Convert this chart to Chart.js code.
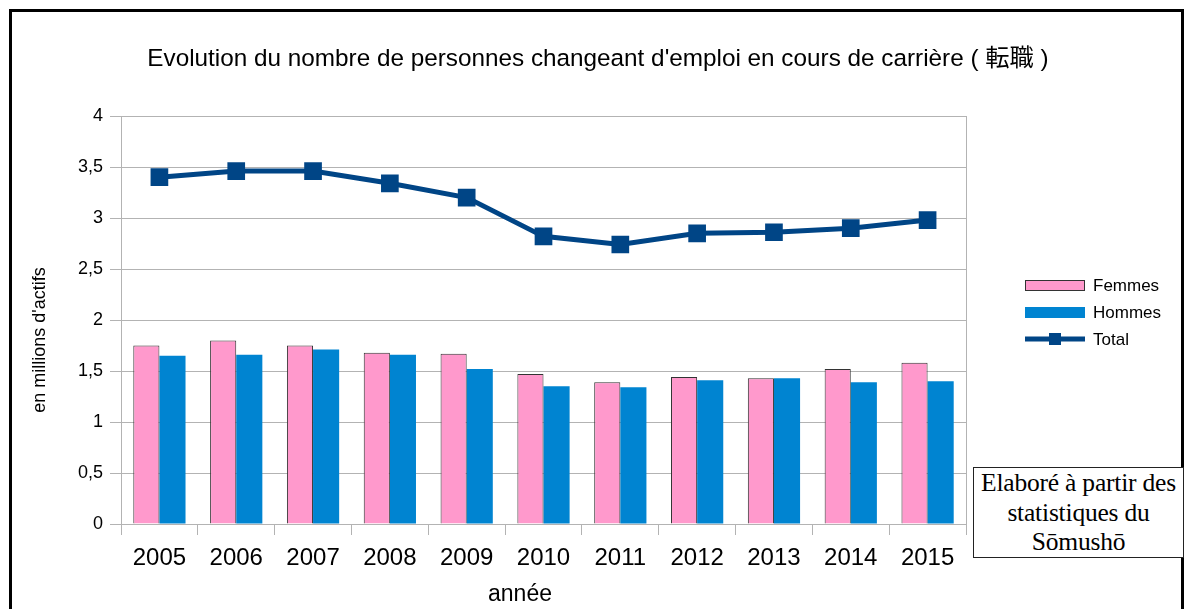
<!DOCTYPE html>
<html>
<head>
<meta charset="utf-8">
<script src="https://cdn.jsdelivr.net/npm/chart.js@4"></script>
<style>
  body { margin: 0; background: #fff; }
  #wrap { position: relative; width: 1186px; height: 609px; overflow: hidden; font-family: "Liberation Sans", "Noto Sans CJK JP", Arial, sans-serif; }
  #frame { position: absolute; left: 9px; top: 9px; width: 1175px; height: 700px; border: 3px solid #000; box-sizing: border-box; pointer-events: none; }
  #title { position: absolute; left: 0; width: 1196px; top: 44px; text-align: center; font-size: 24.3px; line-height: 28px; color: #000; white-space: nowrap; }
  #xtitle { position: absolute; left: 420px; width: 200px; top: 579px; text-align: center; font-size: 23px; line-height: 28px; color: #000; }
  #ytitle { position: absolute; left: -61px; top: 328px; width: 200px; text-align: center; font-size: 18px; line-height: 24px; color: #000; transform: rotate(-90deg); white-space: nowrap; }
  #note { position: absolute; left: 973px; top: 467px; width: 211px; height: 91px; border: 1px solid #222; background: #fff;
          box-sizing: border-box; font-family: "Liberation Serif", serif; font-size: 25.5px; line-height: 29.5px; text-align: center; color: #000; padding-top: 0; white-space: nowrap; letter-spacing: -0.2px; }
</style>
</head>
<body>
<div id="wrap">
  <canvas id="myChart" width="1186" height="609"></canvas>
  <div id="frame"></div>
  <div id="title">Evolution du nombre de personnes changeant d'emploi en cours de carrière ( 転職 )</div>
  <div id="ytitle">en millions d'actifs</div>
  <div id="xtitle">année</div>
  <div id="note">Elaboré à partir des<br>statistiques du<br>Sōmushō</div>
</div>
<script>
// data (millions)
const years = ["2005", "2006", "2007", "2008", "2009", "2010", "2011", "2012", "2013", "2014", "2015"];
const femmes = [1.75, 1.80, 1.75, 1.68, 1.67, 1.47, 1.39, 1.44, 1.43, 1.52, 1.58];
const hommes = [1.65, 1.66, 1.71, 1.66, 1.52, 1.35, 1.34, 1.41, 1.43, 1.39, 1.40];
const total = [3.40, 3.46, 3.46, 3.34, 3.20, 2.82, 2.74, 2.85, 2.86, 2.90, 2.98];

const FONT = '"Liberation Sans", "Noto Sans CJK JP", Arial, sans-serif';
const grey = "#b3b3b3";

// right border of plot area + legend on the right
const extras = {
  id: "extras",
  afterDraw(chart) {
    const ctx = chart.ctx;
    const a = chart.chartArea;
    ctx.save();
    ctx.strokeStyle = grey;
    ctx.lineWidth = 1;
    ctx.beginPath();
    ctx.moveTo(Math.round(a.right) + 0.5, a.top);
    ctx.lineTo(Math.round(a.right) + 0.5, a.bottom);
    ctx.stroke();

    // legend, in the order Femmes, Hommes, Total
    const x0 = 1025, w = 60, rows = [285, 312, 339];
    const order = [1, 2, 0];
    ctx.font = "17px " + FONT;
    ctx.textBaseline = "middle";
    order.forEach((di, i) => {
      const ds = chart.data.datasets[di];
      const y = rows[i];
      if (ds.type === "line") {
        ctx.strokeStyle = ds.borderColor;
        ctx.lineWidth = 5;
        ctx.beginPath();
        ctx.moveTo(x0, y);
        ctx.lineTo(x0 + w, y);
        ctx.stroke();
        ctx.fillStyle = ds.borderColor;
        ctx.fillRect(x0 + w / 2 - 6, y - 6, 12, 12);
      } else {
        ctx.fillStyle = ds.backgroundColor;
        ctx.fillRect(x0, y - 5, w, 11);
        if (ds.borderWidth) {
          ctx.strokeStyle = ds.borderColor;
          ctx.lineWidth = 1;
          ctx.strokeRect(x0 + 0.5, y - 4.5, w - 1, 10);
        }
      }
      ctx.fillStyle = "#000";
      ctx.fillText(ds.label, x0 + w + 8, y + 1);
    });
    ctx.restore();
  }
};

const config = {
  data: {
    labels: years,
    datasets: [
      {
        type: "line",
        label: "Total",
        data: total,
        borderColor: "#004586",
        backgroundColor: "#004586",
        borderWidth: 5,
        pointStyle: "rect",
        pointRadius: 12.5,
        pointHoverRadius: 12.5,
        pointBorderWidth: 0,
        tension: 0,
        order: 0
      },
      {
        type: "bar",
        label: "Femmes",
        data: femmes,
        backgroundColor: "#ff99cc",
        borderColor: "#333333",
        borderWidth: 1,
        categoryPercentage: 0.68,
        barPercentage: 1.0,
        order: 1
      },
      {
        type: "bar",
        label: "Hommes",
        data: hommes,
        backgroundColor: "#0084d1",
        borderColor: "#0084d1",
        borderWidth: 0,
        categoryPercentage: 0.68,
        barPercentage: 1.0,
        order: 1
      }
    ]
  },
  options: {
    responsive: false,
    animation: false,
    layout: { padding: { left: 0, right: 220, top: 116, bottom: 0 } },
    plugins: {
      legend: { display: false },
      tooltip: { enabled: false },
      title: { display: false }
    },
    scales: {
      x: {
        offset: true,
        grid: { display: true, drawOnChartArea: false, drawTicks: true, tickLength: 11, color: grey, offset: true },
        border: { color: grey },
        ticks: { color: "#000", font: { family: FONT, size: 24 }, padding: 9, maxRotation: 0 },
        afterFit(scale) { scale.height = 85; }
      },
      y: {
        min: 0,
        max: 4,
        grid: { color: grey, tickLength: 11 },
        border: { color: grey },
        ticks: {
          stepSize: 0.5,
          color: "#000",
          font: { family: FONT, size: 18 },
          padding: 7,
          callback: (v) => String(v).replace(".", ",")
        },
        afterFit(scale) { scale.width = 121; }
      }
    }
  },
  plugins: [extras]
};

var myChart = new Chart(document.getElementById("myChart"), config);
</script>
</body>
</html>
